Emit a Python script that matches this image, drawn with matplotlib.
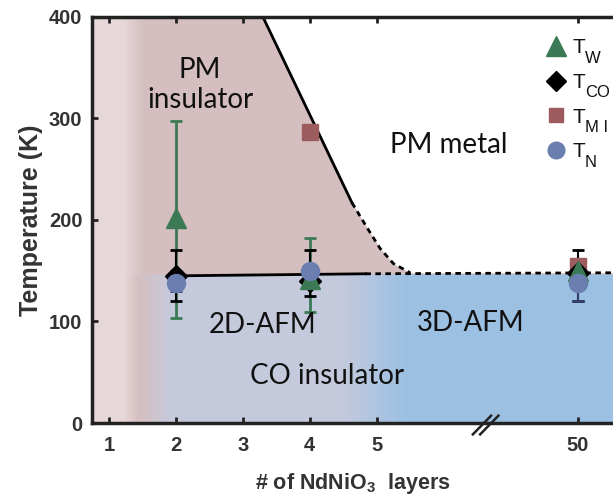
import numpy as np
import matplotlib
matplotlib.use("Agg")
import matplotlib.pyplot as plt
from matplotlib.lines import Line2D

# ---------------- data ----------------
tick_pos = [1, 2, 3, 4, 5, 8]
tick_labels = ['1', '2', '3', '4', '5', '50']
y_ticks = [0, 100, 200, 300, 400]

# T_W (green triangles)
tw_x = [2, 4, 8]
tw_y = [202, 142, 150]
tw_lo = [99, 33, 0]
tw_hi = [96, 40, 0]
# T_CO (black diamonds)
tco_x = [2, 4, 8]
tco_y = [145, 140, 148]
tco_lo = [25, 15, 28]
tco_hi = [25, 30, 22]
# T_MI (red-brown squares)
tmi_x = [4, 8]
tmi_y = [287, 155]
# T_N (blue circles)
tn_x = [2, 4, 8]
tn_y = [138, 150, 138]
tn_lo = [8, 0, 18]
tn_hi = [12, 0, 10]

legend_subs = ['W', 'CO', 'M I', 'N']

# phase boundaries
pm_solid_x = [3.30, 4.63]
pm_solid_T = [400, 217]
pm_dot_x = [4.63, 4.85, 5.05, 5.25, 5.50]
pm_dot_T = [217, 193, 172, 157, 148]
co_solid_x = [2, 4.83]
co_solid_T = [145, 147]
co_dash_x = [4.83, 8.53]
co_dash_T = [147, 148]
T_split = 146

# colours of regions
light_pink = np.array([0.905, 0.845, 0.850])
pink = np.array([0.835, 0.748, 0.752])
lav = np.array([0.772, 0.792, 0.866])
blue = np.array([0.608, 0.753, 0.890])

XMIN, XMAX = 0.746, 8.53
YMIN, YMAX = 0, 400

fig = plt.figure(figsize=(6.13, 4.98), dpi=100)
ax = fig.add_axes([0.1501, 0.1506, 0.8499, 0.8153])

# ---------- background gradient image ----------
nx, ny = 900, 400
xs = np.linspace(XMIN, XMAX, nx)
Ts = np.linspace(YMIN, YMAX, ny)


def blend(c1, c2, t):
    t = np.clip(t, 0, 1)[:, None]
    return c1[None, :] * (1 - t) + c2[None, :] * t


upper = blend(light_pink, pink, (xs - 1.22) / 0.30)
lower = blend(light_pink, pink, (xs - 1.22) / 0.22)
m = xs > 1.44
lower[m] = blend(pink, lav, (xs[m] - 1.44) / 0.50)
m = xs > 1.94
lower[m] = lav
m = xs > 4.45
lower[m] = blend(lav, blue, (xs[m] - 4.45) / 1.02)
m = xs > 5.47
lower[m] = blue
img = np.where((Ts < T_split)[:, None, None], lower[None, :, :], upper[None, :, :])
ax.imshow(img, extent=[XMIN, XMAX, YMIN, YMAX], origin='lower', aspect='auto',
          interpolation='bilinear', zorder=0)

# PM metal region (white)
bx = pm_solid_x + pm_dot_x[1:] + [XMAX]
bT = pm_solid_T + pm_dot_T[1:] + [pm_dot_T[-1]]
ax.fill_between(bx, bT, YMAX, color='white', zorder=1, lw=0)

# boundary lines
ax.plot(pm_solid_x, pm_solid_T, color='black', lw=2, zorder=2)
ax.plot(pm_dot_x, pm_dot_T, color='black', lw=2, ls=(0, (2, 1.6)), zorder=2)
ax.plot(co_solid_x, co_solid_T, color='black', lw=2, zorder=2)
ax.plot(co_dash_x, co_dash_T, color='black', lw=2, ls=(0, (2, 1.6)), zorder=2)

# ---------- data markers ----------
green = '#3b7a55'
tmi_c = '#9c5c5e'
tn_c = '#6a7fb0'

ax.errorbar(tw_x, tw_y, yerr=[tw_lo, tw_hi], fmt='none', ecolor=green,
            elinewidth=2, capsize=4, capthick=2, zorder=3)
ax.errorbar(tco_x, tco_y, yerr=[tco_lo, tco_hi], fmt='none', ecolor='black',
            elinewidth=1.5, capsize=4, capthick=2, zorder=3)
ax.errorbar(tn_x, tn_y, yerr=[tn_lo, tn_hi], fmt='none', ecolor='#33406a',
            elinewidth=1.5, capsize=4, capthick=2, zorder=3)

ax.plot(tmi_x, tmi_y, ls='none', marker='s', ms=11, color=tmi_c, zorder=4)
ax.plot(tco_x, tco_y, ls='none', marker='D', ms=11, color='black', zorder=5)
ax.plot(tw_x, tw_y, ls='none', marker='^', ms=15, color=green, zorder=6)
ax.plot(tn_x, tn_y, ls='none', marker='o', ms=13, color=tn_c, zorder=7)

# ---------- region labels ----------
lab_kw = dict(fontsize=20, family='Lato', ha='center', va='center', color='#111111', zorder=8)
ax.text(2.36, 333, 'PM\ninsulator', linespacing=1.15, **lab_kw)
ax.text(6.08, 274, 'PM metal', **lab_kw)
ax.text(3.29, 97, '2D-AFM', **lab_kw)
ax.text(6.40, 99, '3D-AFM', **lab_kw)
ax.text(4.26, 46, 'CO insulator', **lab_kw)

# ---------- legend ----------
handles = [
    Line2D([], [], ls='none', marker='^', ms=14, color=green),
    Line2D([], [], ls='none', marker='D', ms=10, color='black'),
    Line2D([], [], ls='none', marker='s', ms=10, color=tmi_c),
    Line2D([], [], ls='none', marker='o', ms=12, color=tn_c),
]
leg = ax.legend(handles, ['T'] * 4, loc='upper left', bbox_to_anchor=(0.85, 0.973),
                frameon=False, handlelength=1.0, handletextpad=0.3,
                labelspacing=0.75, borderaxespad=0.1,
                prop={'family': 'Liberation Sans', 'size': 15})
leg.set_zorder(9)
for txt, sub in zip(leg.get_texts(), legend_subs):
    txt.set_color('#111111')
    ax.annotate(sub, xy=(1, 0), xycoords=txt, xytext=(0, -6),
                textcoords='offset points', ha='left', va='bottom',
                fontsize=12, family='Liberation Sans', color='#111111',
                annotation_clip=False, zorder=9.5)

# ---------- axes styling ----------
ax.set_xlim(XMIN, XMAX)
ax.set_ylim(YMIN, YMAX)
ax.set_xticks(tick_pos)
ax.set_xticklabels(tick_labels)
ax.set_yticks(y_ticks)
for lab in ax.get_xticklabels() + ax.get_yticklabels():
    lab.set_fontfamily('Liberation Sans')
    lab.set_fontweight('bold')
    lab.set_fontsize(14.5)
    lab.set_color('#333333')
ax.tick_params(direction='in', length=4, width=2, color='#222222',
               top=True, right=False, pad=7)
ax.tick_params(axis='x', pad=9)
for s in ['left', 'bottom', 'top']:
    ax.spines[s].set_linewidth(2.5)
    ax.spines[s].set_color('#222222')
    ax.spines[s].set_zorder(10)
ax.spines['right'].set_visible(False)

ax.set_ylabel('Temperature (K)', fontsize=18, fontweight='bold',
              family='Liberation Sans', color='#333333', labelpad=4)
ax.set_xlabel(r'# of NdNiO$_\mathregular{3}$  layers', fontsize=15.5, fontweight='bold',
              family='Liberation Sans', color='#333333', labelpad=12)

# axis break mark
for dx in (-0.007, 0.007):
    ax.plot([0.738 + dx, 0.773 + dx], [-0.028, 0.018], transform=ax.transAxes,
            color='#222222', lw=1.8, clip_on=False, zorder=11)

fig.canvas.draw()
fig.savefig('out.png', dpi=100)
